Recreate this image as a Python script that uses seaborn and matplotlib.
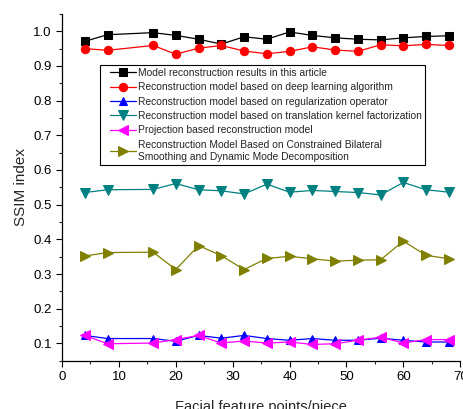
import matplotlib
matplotlib.use("Agg")
import matplotlib.pyplot as plt
import seaborn as sns
import pandas as pd
from matplotlib.ticker import MultipleLocator
from matplotlib.lines import Line2D
from matplotlib.legend_handler import HandlerLine2D

x_points = [4, 8, 16, 20, 24, 28, 32, 36, 40, 44, 48, 52, 56, 60, 64, 68]

labels = [
    "Model reconstruction results in this article",
    "Reconstruction model based on deep learning algorithm",
    "Reconstruction model based on regularization operator",
    "Reconstruction model based on translation kernel factorization",
    "Projection based reconstruction model",
    "Reconstruction Model Based on Constrained Bilateral\nSmoothing and Dynamic Mode Decomposition",
]

this_article = [0.971, 0.990, 0.996, 0.988, 0.977, 0.963, 0.984, 0.977, 0.998, 0.988, 0.981, 0.977, 0.975, 0.981, 0.985, 0.987]
deep_learning = [0.950, 0.945, 0.959, 0.934, 0.951, 0.959, 0.943, 0.935, 0.942, 0.955, 0.946, 0.942, 0.961, 0.958, 0.962, 0.959]
regularization = [0.123, 0.114, 0.114, 0.106, 0.123, 0.115, 0.123, 0.114, 0.109, 0.114, 0.109, 0.109, 0.115, 0.109, 0.104, 0.104]
translation_kernel = [0.535, 0.543, 0.544, 0.561, 0.543, 0.540, 0.531, 0.559, 0.536, 0.541, 0.538, 0.535, 0.528, 0.564, 0.543, 0.536]
projection = [0.123, 0.099, 0.101, 0.111, 0.123, 0.101, 0.107, 0.101, 0.104, 0.097, 0.099, 0.109, 0.118, 0.101, 0.111, 0.111]
bilateral_dmd = [0.352, 0.362, 0.363, 0.313, 0.382, 0.353, 0.313, 0.345, 0.351, 0.344, 0.337, 0.340, 0.341, 0.395, 0.354, 0.344]

series = [this_article, deep_learning, regularization, translation_kernel, projection, bilateral_dmd]
colors = ["#000000", "#ff0000", "#0000ff", "#008080", "#ff00ff", "#808000"]
markers = ["s", "o", "^", "v", "<", ">"]
msizes = [5.5, 6, 6, 6.5, 6.5, 6.5]

sns.set_style("ticks")
plt.rcParams["font.family"] = ["Liberation Sans", "DejaVu Sans"]

fig = plt.figure(figsize=(4.63, 4.09), dpi=100)
ax = fig.add_axes([0.134, 0.118, 0.860, 0.848])

for lab, vals, c, m, ms in zip(labels, series, colors, markers, msizes):
    df = pd.DataFrame({"x": x_points, "y": vals})
    sns.lineplot(data=df, x="x", y="y", ax=ax, color=c, marker=m, markersize=ms,
                 markeredgecolor=c, linewidth=0.9, label=lab)

ax.set_xlim(0, 70)
ax.set_ylim(0.05, 1.05)
ax.xaxis.set_major_locator(MultipleLocator(10))
ax.xaxis.set_minor_locator(MultipleLocator(5))
ax.yaxis.set_major_locator(MultipleLocator(0.1))
ax.yaxis.set_minor_locator(MultipleLocator(0.05))
ax.set_yticks([0.1, 0.2, 0.3, 0.4, 0.5, 0.6, 0.7, 0.8, 0.9, 1.0])
ax.yaxis.set_major_formatter(matplotlib.ticker.FormatStrFormatter("%.1f"))
ax.tick_params(axis="both", which="major", direction="out", length=4, width=0.8, labelsize=9.5, colors="black")
ax.tick_params(axis="both", which="minor", direction="out", length=2.5, width=0.8)
for s in ["left", "bottom"]:
    ax.spines[s].set_linewidth(0.9)
    ax.spines[s].set_color("black")
ax.spines["top"].set_visible(False)
ax.spines["right"].set_visible(False)

ax.set_xlabel("Facial feature points/piece", fontsize=10.5, labelpad=12)
ax.set_ylabel("SSIM index", fontsize=11, labelpad=4)

leg = ax.legend(loc="upper left", bbox_to_anchor=(0.0955, 0.853), fontsize=7.4,
                frameon=True, fancybox=False, shadow=False, framealpha=1,
                edgecolor="black", handlelength=3.15, handletextpad=0.2,
                labelspacing=0.42, borderpad=0.3, borderaxespad=0,
                handler_map={Line2D: HandlerLine2D(xpad=0.65)})
leg.get_frame().set_linewidth(0.8)
for t in leg.get_texts():
    t.set_linespacing(1.35)

fig.savefig("out.png", dpi=100)
